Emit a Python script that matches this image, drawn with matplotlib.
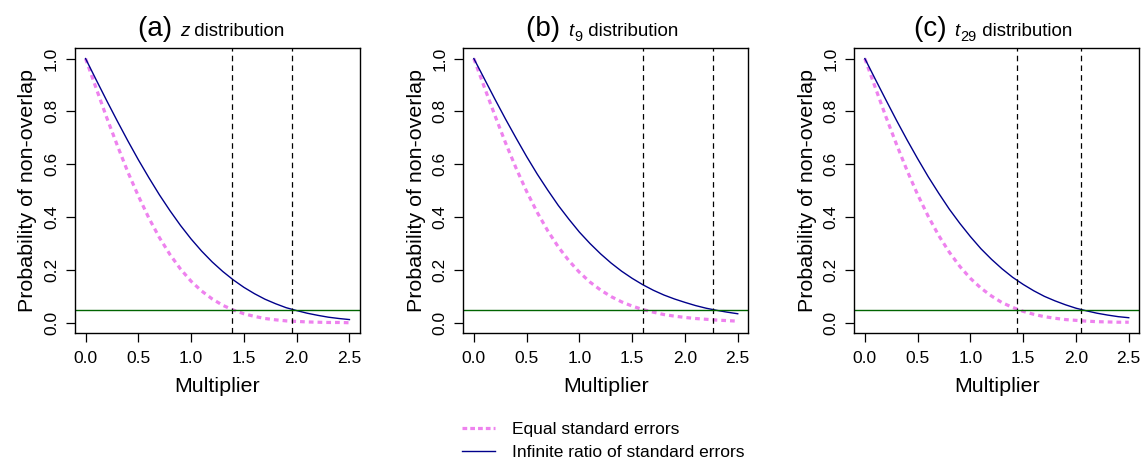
import matplotlib
matplotlib.use("Agg")
import matplotlib.pyplot as plt
from matplotlib.lines import Line2D
from matplotlib.text import Text
from matplotlib.offsetbox import TextArea, HPacker, AnchoredOffsetbox, DrawingArea

plt.rcParams['font.family'] = ['Liberation Sans', 'DejaVu Sans']
plt.rcParams['lines.scale_dashes'] = False

# ---------------- data ----------------
multiplier = [0.0, 0.1, 0.2, 0.3, 0.4, 0.5, 0.6, 0.7, 0.8, 0.9, 1.0, 1.1, 1.2,
              1.3, 1.4, 1.5, 1.6, 1.7, 1.8, 1.9, 2.0, 2.1, 2.2, 2.3, 2.4, 2.5]

z_equal = [1.000, 0.888, 0.777, 0.672, 0.571, 0.480, 0.396, 0.322, 0.258, 0.203,
           0.157, 0.120, 0.090, 0.066, 0.048, 0.034, 0.024, 0.016, 0.011, 0.007,
           0.005, 0.003, 0.002, 0.001, 0.001, 0.000]
z_infinite = [1.000, 0.920, 0.841, 0.764, 0.689, 0.617, 0.549, 0.484, 0.424, 0.368,
              0.317, 0.271, 0.230, 0.194, 0.162, 0.134, 0.110, 0.089, 0.072, 0.057,
              0.046, 0.036, 0.028, 0.021, 0.016, 0.012]

t9_equal = [1.000, 0.891, 0.784, 0.681, 0.585, 0.497, 0.418, 0.348, 0.287, 0.235,
            0.191, 0.154, 0.124, 0.099, 0.079, 0.063, 0.050, 0.040, 0.031, 0.025,
            0.020, 0.016, 0.013, 0.010, 0.008, 0.006]
t9_infinite = [1.000, 0.923, 0.846, 0.771, 0.699, 0.629, 0.563, 0.502, 0.444, 0.392,
               0.343, 0.300, 0.261, 0.226, 0.195, 0.168, 0.144, 0.123, 0.105, 0.090,
               0.077, 0.065, 0.055, 0.047, 0.040, 0.034]

t29_equal = [1.000, 0.889, 0.779, 0.675, 0.576, 0.485, 0.403, 0.330, 0.267, 0.213,
             0.168, 0.131, 0.101, 0.076, 0.058, 0.043, 0.032, 0.023, 0.017, 0.012,
             0.009, 0.006, 0.004, 0.003, 0.002, 0.002]
t29_infinite = [1.000, 0.921, 0.843, 0.766, 0.692, 0.621, 0.553, 0.490, 0.430, 0.376,
                0.326, 0.280, 0.240, 0.204, 0.172, 0.145, 0.121, 0.100, 0.083, 0.068,
                0.055, 0.045, 0.036, 0.029, 0.023, 0.019]

z_cutoffs = [1.386, 1.960]
t9_cutoffs = [1.600, 2.262]
t29_cutoffs = [1.446, 2.045]
threshold = 0.05

panel_tags = ["(a)", "(b)", "(c)"]
panel_symbols = ["z", "t", "t"]
panel_subscripts = ["", "9", "29"]
dist_word = "distribution"
x_ticks = [0.0, 0.5, 1.0, 1.5, 2.0, 2.5]
y_ticks = [0.0, 0.2, 0.4, 0.6, 0.8, 1.0]
x_label = "Multiplier"
y_label = "Probability of non-overlap"
legend_labels = ["Equal standard errors", "Infinite ratio of standard errors"]

# ---------------- styling ----------------
W, H = 1148, 461
fig = plt.figure(figsize=(W / 100, H / 100), dpi=100)

pink = '#EE82EE'
blue = '#00008B'
green = '#006400'

lefts = [75, 463.3, 854.3]
box_w, box_top, box_bot = 285, 48, 333.3
title_centers = [211.5, 602.2, 992.9]

panels = [
    (z_equal, z_infinite, z_cutoffs),
    (t9_equal, t9_infinite, t9_cutoffs),
    (t29_equal, t29_infinite, t29_cutoffs),
]

SUB_SIZE = 10.5
TXT_SIZE = 13.5


def make_title(tag, sym, sub):
    children = [TextArea(tag + " ", textprops=dict(fontsize=20))]
    children.append(TextArea(sym, textprops=dict(fontsize=TXT_SIZE, style='italic')))
    if sub:
        w = 0.556 * SUB_SIZE * len(sub) + 1.0
        da = DrawingArea(w, 8, 0, 4, clip=False)
        da.add_artist(Text(0.5, -3.5, sub, fontsize=SUB_SIZE, ha='left', va='baseline'))
        children.append(da)
    children.append(TextArea(" " + dist_word, textprops=dict(fontsize=TXT_SIZE)))
    return HPacker(children=children, align="baseline", pad=0, sep=0)


for i, (eq, inf, cuts) in enumerate(panels):
    ax = fig.add_axes([lefts[i] / W, (H - box_bot) / H, box_w / W, (box_bot - box_top) / H])
    ax.plot(multiplier, eq, color=pink, lw=2.3, dashes=(3.4, 2.9),
            solid_capstyle='butt', dash_capstyle='butt')
    ax.plot(multiplier, inf, color=blue, lw=1.0)
    for c in cuts:
        ax.axvline(c, color='black', lw=0.9, dashes=(4, 3))
    ax.axhline(threshold, color=green, lw=1.0)

    ax.set_xlim(-0.1, 2.6)
    ax.set_ylim(-0.04, 1.04)
    ax.set_xticks(x_ticks)
    ax.set_yticks(y_ticks)
    ax.set_xticklabels([f"{v:.1f}" for v in x_ticks])
    ax.set_yticklabels([f"{v:.1f}" for v in y_ticks])
    ax.tick_params(direction='out', length=6.5, width=0.9, labelsize=12.5, color='black')
    ax.tick_params(axis='x', pad=6.5)
    ax.tick_params(axis='y', pad=5)
    for lab in ax.get_yticklabels():
        lab.set_rotation(90)
        lab.set_va('center')
    for sp in ax.spines.values():
        sp.set_linewidth(1.0)
        sp.set_color('black')

    ax.text(-0.165, 0.5, y_label, transform=ax.transAxes, rotation=90,
            ha='center', va='center', fontsize=15.4)
    ax.text(0.5, -0.187, x_label, transform=ax.transAxes,
            ha='center', va='center', fontsize=15.4)

    pack = make_title(panel_tags[i], panel_symbols[i], panel_subscripts[i])
    anch = AnchoredOffsetbox(loc='lower center', child=pack, pad=0, borderpad=0,
                             frameon=False,
                             bbox_to_anchor=(title_centers[i] / W, (H - box_top + 6) / H),
                             bbox_transform=fig.transFigure)
    fig.add_artist(anch)

handles = [
    Line2D([], [], color=pink, lw=2.3, dashes=(3.4, 2.2)),
    Line2D([], [], color=blue, lw=1.0),
]
fig.legend(handles, legend_labels, loc='upper left',
           bbox_to_anchor=(462 / W, (H - 422) / H), frameon=False,
           fontsize=12.5, handlelength=1.92, handletextpad=0.96,
           labelspacing=0.42, borderpad=0, borderaxespad=0)

fig.savefig("out.png", dpi=100)
